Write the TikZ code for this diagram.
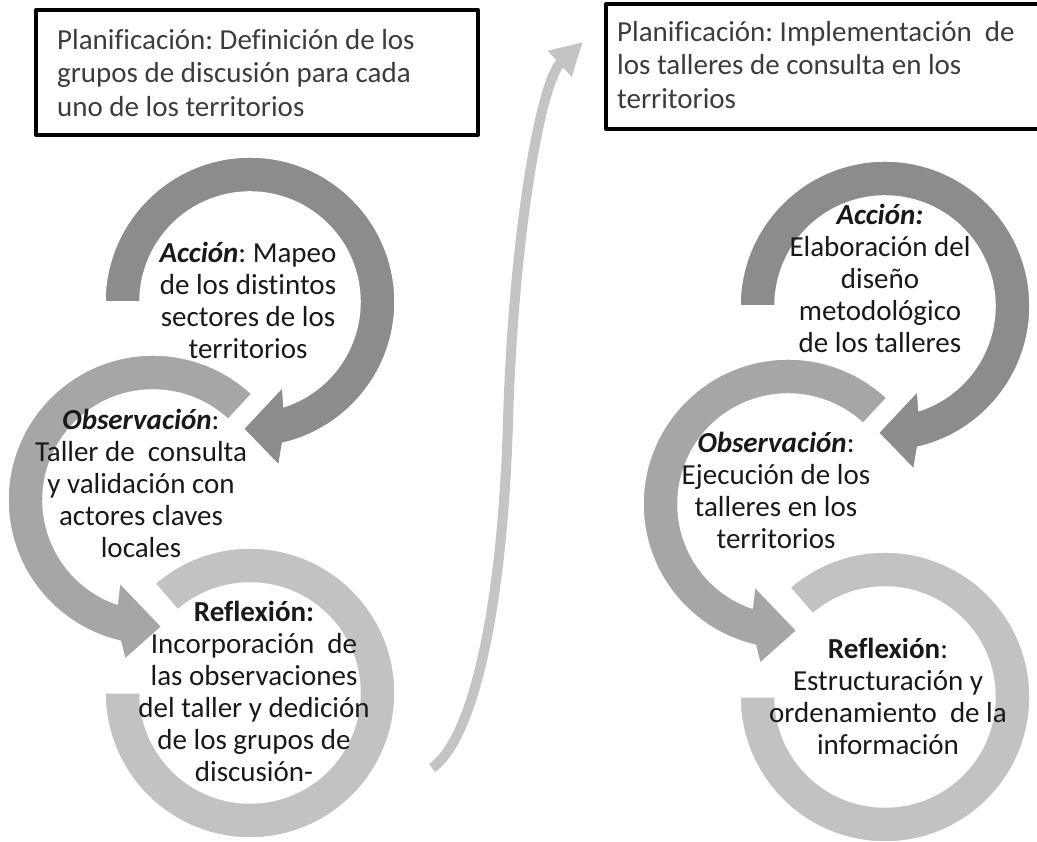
\documentclass[tikz,border=0pt]{standalone}
\usepackage{fontspec}
\setmainfont{Carlito}[Ligatures=CommonOff]
\frenchspacing
\usetikzlibrary{arrows.meta}
\definecolor{grisAccion}{RGB}{140,140,140}
\definecolor{grisObs}{RGB}{166,166,166}
\definecolor{grisRefl}{RGB}{194,194,194}
\definecolor{grisFlecha}{RGB}{196,196,196}
\definecolor{textoCaja}{RGB}{60,60,60}
\begin{document}
\begin{tikzpicture}[x=1pt,y=1pt, line join=round, font=\fontsize{29}{32}\selectfont,
	etapa/.style={align=center, text=black!90, inner sep=0pt},
	plan/.style={align=left, text=textoCaja, inner sep=0pt, font=\fontsize{29}{33.5}\selectfont},
	marco/.style={line width=4pt},
	anillo/.style={draw=white, line width=1.5pt}]
	\useasboundingbox (0,0) rectangle (1037,842);
	% los dos ciclos accion - observacion - reflexion
	\foreach \dx/\dy in {0/0, 635/-4}{
		\begin{scope}[shift={(\dx,\dy)}]
			\begin{scope}[shift={(250,149)}]
				\fill[grisRefl, anillo] (131:145) arc[start angle=131, end angle=-180, radius=145] -- (180:110) arc[start angle=-180, end angle=131, radius=110] -- cycle;
			\end{scope}
			\begin{scope}[shift={(153,342)}]
				\fill[grisObs, anillo] (47:145) arc[start angle=47, end angle=257, radius=145] -- (260:162) -- (274:127) -- (248:89) -- (251:110) arc[start angle=251, end angle=47, radius=110] -- cycle;
			\end{scope}
			\begin{scope}[shift={(250,540)}]
				\fill[grisAccion, anillo] (180:145) arc[start angle=180, end angle=-77, radius=145] -- (-80:166) -- (-93:127) -- (-69:91) -- (-72:110) arc[start angle=-72, end angle=180, radius=110] -- cycle;
			\end{scope}
		\end{scope}
	}
	% flecha entre los ciclos
	\coordinate (inicio) at (432,74);
	\coordinate (fin) at (583,800);
	\draw[grisFlecha, line width=10pt, -{Triangle[width=33pt,length=32pt]}] (inicio) .. controls (470,100) and (502,220) .. (508,420) .. controls (513,600) and (540,760) .. (fin);
	% planificacion
	\draw[marco] (36,832) rectangle (478,707);
	\draw[marco] (1037,838) -- (606,838) -- (606,713) -- (1037,713);
	\node[plan, anchor=west] (plan1) at (57,769) {Planificación: Definición de los\\grupos de discusión para cada\\uno de los territorios};
	\node[plan, anchor=west] (plan2) at (617,777) {Planificación: Implementación\ \ de\\los talleres de consulta en los\\territorios};
	% textos de las etapas
	\node[etapa] (accion1) at (248,542) {\textbf{\textit{Acción}}: Mapeo\\de los distintos\\sectores de los\\territorios};
	\node[etapa] (obs1) at (141,359) {\textbf{\textit{Observación}}:\\Taller de\ \ consulta\\y validación con\\actores claves\\locales};
	\node[etapa] (refl1) at (254,151) {\textbf{Reflexión:}\\Incorporación\ \ de\\las observaciones\\del taller y dedición\\de los grupos de\\discusión-};
	\node[etapa] (accion2) at (880,564) {\textbf{\textit{Acción:}}\\Elaboración del\\diseño\\metodológico\\de los talleres};
	\node[etapa] (obs2) at (776,352) {\textbf{\textit{Observación}}:\\Ejecución de los\\talleres en los\\territorios};
	\node[etapa] (refl2) at (888,146) {\textbf{Reflexión}:\\Estructuración y\\ordenamiento\ \ de la\\información};
\end{tikzpicture}
\end{document}
